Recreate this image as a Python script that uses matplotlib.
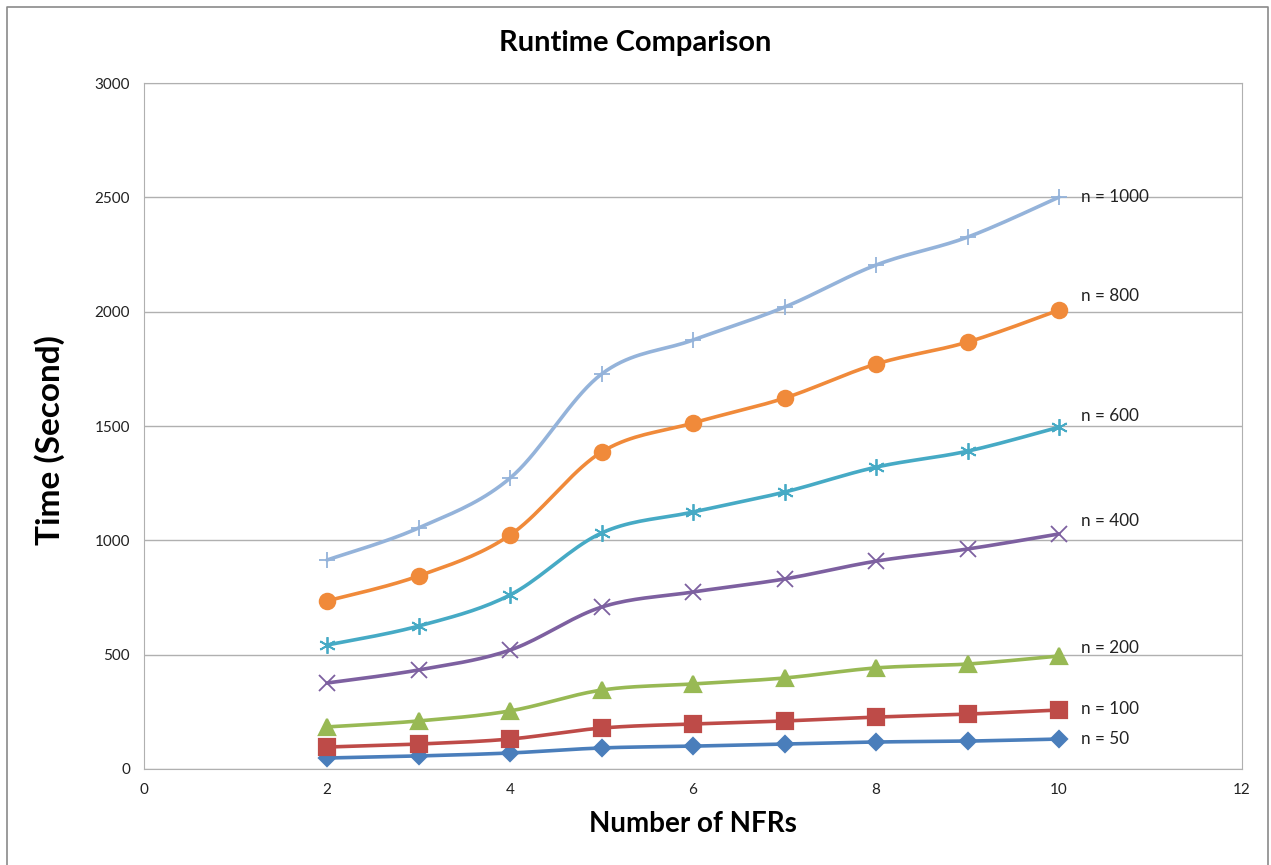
import matplotlib
matplotlib.use("Agg")
import matplotlib.pyplot as plt
import numpy as np
from matplotlib.lines import Line2D

plt.rcParams['font.family'] = ['Lato', 'DejaVu Sans']

nfrs = [2, 3, 4, 5, 6, 7, 8, 9, 10]
n50 = [48, 57, 70, 92, 100, 109, 118, 122, 131]
n100 = [96, 109, 131, 179, 197, 210, 227, 240, 258]
n200 = [184, 210, 254, 345, 372, 398, 442, 459, 494]
n400 = [376, 433, 520, 708, 774, 831, 909, 962, 1028]
n600 = [542, 625, 761, 1032, 1124, 1211, 1320, 1390, 1495]
n800 = [735, 844, 1023, 1386, 1513, 1622, 1771, 1867, 2007]
n1000 = [914, 1054, 1272, 1727, 1876, 2020, 2204, 2326, 2501]
labels = ['n = 50', 'n = 100', 'n = 200', 'n = 400', 'n = 600', 'n = 800', 'n = 1000']


def smooth(x, y, steps=20):
    # catmull-rom style curve through the points, like excel "smoothed line"
    x = np.asarray(x, float)
    y = np.asarray(y, float)
    px = np.concatenate([[x[0]], x, [x[-1]]])
    py = np.concatenate([[y[0]], y, [y[-1]]])
    xs, ys = [], []
    t = np.linspace(0, 1, steps)
    for i in range(1, len(px) - 2):
        p0x, p1x, p2x, p3x = px[i - 1], px[i], px[i + 1], px[i + 2]
        p0y, p1y, p2y, p3y = py[i - 1], py[i], py[i + 1], py[i + 2]
        c1x, c1y = p1x + (p2x - p0x) / 6, p1y + (p2y - p0y) / 6
        c2x, c2y = p2x - (p3x - p1x) / 6, p2y - (p3y - p1y) / 6
        b = [(1 - t) ** 3, 3 * (1 - t) ** 2 * t, 3 * (1 - t) * t ** 2, t ** 3]
        xs.append(b[0] * p1x + b[1] * c1x + b[2] * c2x + b[3] * p2x)
        ys.append(b[0] * p1y + b[1] * c1y + b[2] * c2y + b[3] * p2y)
    return np.concatenate(xs), np.concatenate(ys)


fig = plt.figure(figsize=(12.71, 8.65), dpi=100)
ax = fig.add_axes([0.1133, 0.111, 0.8639, 0.793])

series = [n50, n100, n200, n400, n600, n800, n1000]
colors = ['#4A7EBB', '#BE4B48', '#98B954', '#7D60A0', '#46AAC5', '#F08A3A', '#94B3DA']
markers = ['D', 's', '^', 'x', (6, 2, 0), 'o', '+']
msizes = [8, 11, 11, 11, 12, 11, 12]
label_dy = [0, 1, 6, 9, 8, 10, 0]  # nudges for the right-hand labels

for ys, c, m, ms, lab, dy in zip(series, colors, markers, msizes, labels, label_dy):
    sx, sy = smooth(nfrs, ys)
    ax.plot(sx, sy, color=c, lw=2.6, solid_capstyle='round', zorder=3)
    ax.plot(nfrs, ys, ls='none', marker=m, ms=ms, color=c, mec=c,
            mew=1.6 if m not in ('x', '+') and not isinstance(m, tuple) else 1.3, zorder=4)
    ax.annotate(lab, (nfrs[-1], ys[-1]), xytext=(16, dy), textcoords='offset points',
                fontsize=12.3, va='center', ha='left', color='#222222')

ax.set_xlim(0, 12)
ax.set_ylim(0, 3000)
ax.set_xticks(range(0, 13, 2))
ax.set_yticks(range(0, 3001, 500))
ax.yaxis.grid(True, color='#B0B0B0', lw=1)
ax.set_axisbelow(True)
for s in ax.spines.values():
    s.set_color('#B0B0B0')
ax.tick_params(length=0, labelsize=11, colors='#222222', pad=10)

fig.text(0.5, 1 - 43 / 865, 'Runtime Comparison', fontsize=21, fontweight='bold',
         ha='center', va='center')
ax.set_xlabel('Number of NFRs', fontsize=20, fontweight='bold', labelpad=10)
ax.set_ylabel('Time (Second)', fontsize=24, fontweight='bold')
ax.yaxis.set_label_coords(-0.072, 0.48)

# outer chart border
fig.add_artist(Line2D([0.0055, 0.0055, 0.9975, 0.9975], [0.0, 0.992, 0.992, 0.0],
                      transform=fig.transFigure, color='#8A8A8A', lw=1.2))

fig.savefig('out.png', dpi=100, facecolor='white')
